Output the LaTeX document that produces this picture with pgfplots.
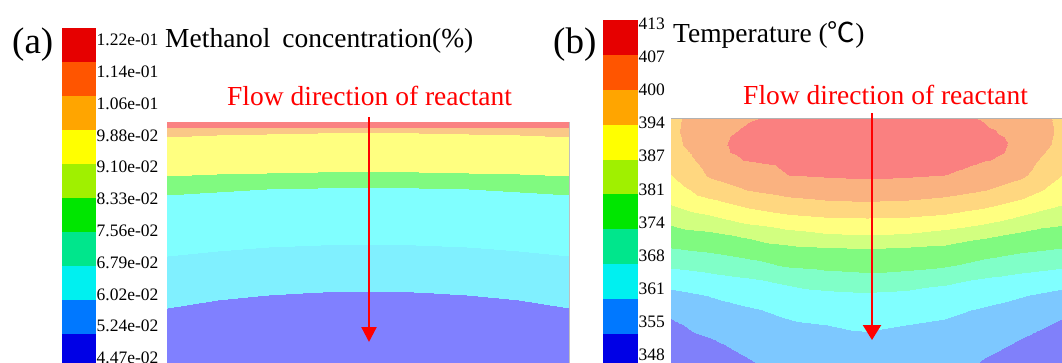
\documentclass[border=0pt]{standalone}
\usepackage{fontspec}
\setmainfont{Liberation Serif}
\newfontfamily\cjk{Noto Sans CJK SC}
\usepackage{pgfplots}
\pgfplotsset{compat=1.18}
\usepackage{pgfplotstable}
\usetikzlibrary{arrows.meta}

\pgfplotsset{
 colormap={cbfull}{rgb255=(0,0,230) rgb255=(0,120,255) rgb255=(0,240,240) rgb255=(0,230,140) rgb255=(0,230,0) rgb255=(160,240,0) rgb255=(255,255,0) rgb255=(255,165,0) rgb255=(255,85,0) rgb255=(230,0,0)},
 colormap={pastelA}{rgb255=(128,128,255) rgb255=(128,128,255) rgb255=(128,240,255) rgb255=(128,255,255) rgb255=(128,255,255) rgb255=(128,250,128) rgb255=(255,255,128) rgb255=(255,255,128) rgb255=(250,200,135) rgb255=(250,130,130)},
 colormap={pastelB}{rgb255=(128,128,250) rgb255=(125,200,255) rgb255=(128,255,255) rgb255=(128,255,200) rgb255=(128,250,128) rgb255=(210,255,128) rgb255=(255,255,128) rgb255=(255,215,128) rgb255=(250,178,128) rgb255=(250,128,128)},
}

% methanol concentration: contour bands, rows follow the band edges
\pgfplotstableread[row sep=\\]{
x y z\\
167 122 0.1220\\ 217.25 122 0.1220\\ 267.5 122 0.1220\\ 317.75 122 0.1220\\ 368 122 0.1220\\ 418.25 122 0.1220\\ 468.5 122 0.1220\\ 518.75 122 0.1220\\ 569 122 0.1220\\
167 128.5 0.11427\\ 217.25 128.5 0.11427\\ 267.5 128.5 0.11427\\ 317.75 128.5 0.11427\\ 368 128.5 0.11427\\ 418.25 128.5 0.11427\\ 468.5 128.5 0.11427\\ 518.75 128.5 0.11427\\ 569 128.5 0.11427\\
167 137 0.10653\\ 217.25 135.25 0.10653\\ 267.5 134 0.10653\\ 317.75 133.25 0.10653\\ 368 133 0.10653\\ 418.25 133.25 0.10653\\ 468.5 134 0.10653\\ 518.75 135.25 0.10653\\ 569 137 0.10653\\
167 175.5 0.09108\\ 217.25 173.97 0.09108\\ 267.5 172.88 0.09108\\ 317.75 172.22 0.09108\\ 368 172 0.09108\\ 418.25 172.22 0.09108\\ 468.5 172.88 0.09108\\ 518.75 173.97 0.09108\\ 569 175.5 0.09108\\
167 195 0.08335\\ 217.25 191.5 0.08335\\ 267.5 189 0.08335\\ 317.75 187.5 0.08335\\ 368 187 0.08335\\ 418.25 187.5 0.08335\\ 468.5 189 0.08335\\ 518.75 191.5 0.08335\\ 569 195 0.08335\\
167 256 0.0679\\ 217.25 250.75 0.0679\\ 267.5 247 0.0679\\ 317.75 244.75 0.0679\\ 368 244 0.0679\\ 418.25 244.75 0.0679\\ 468.5 247 0.0679\\ 518.75 250.75 0.0679\\ 569 256 0.0679\\
167 307.5 0.06017\\ 217.25 300.28 0.06017\\ 267.5 295.13 0.06017\\ 317.75 292.03 0.06017\\ 368 291 0.06017\\ 418.25 292.03 0.06017\\ 468.5 295.13 0.06017\\ 518.75 300.28 0.06017\\ 569 307.5 0.06017\\
167 363 0.0524\\ 217.25 363 0.0524\\ 267.5 363 0.0524\\ 317.75 363 0.0524\\ 368 363 0.0524\\ 418.25 363 0.0524\\ 468.5 363 0.0524\\ 518.75 363 0.0524\\ 569 363 0.0524\\
}\tblA

% temperature field
\pgfplotstableread[row sep=\\]{
x y z\\
671 118 398.5\\ 710 118 404.0\\ 729.5 118 405.2\\ 749 118 406.3\\ 788 118 407.0\\ 827 118 408.5\\ 866.5 118 409.5\\ 906 118 408.5\\ 945 118 407.0\\ 984 118 406.3\\ 1003.5 118 405.2\\ 1023 118 404.0\\ 1062 118 398.5\\
671 130 398.8\\ 710 130 404.5\\ 729.5 130 406.2\\ 749 130 406.9\\ 788 130 407.9\\ 827 130 409.4\\ 866.5 130 410.4\\ 906 130 409.4\\ 945 130 407.9\\ 984 130 406.9\\ 1003.5 130 406.2\\ 1023 130 404.5\\ 1062 130 398.8\\
671 145 398.2\\ 710 145 404.4\\ 729.5 145 406.9\\ 749 145 407.3\\ 788 145 409.0\\ 827 145 410.5\\ 866.5 145 411.5\\ 906 145 410.5\\ 945 145 409.0\\ 984 145 407.3\\ 1003.5 145 406.9\\ 1023 145 404.4\\ 1062 145 398.2\\
671 160 395.9\\ 710 160 402.6\\ 729.5 160 406.1\\ 749 160 406.7\\ 788 160 407.8\\ 827 160 408.8\\ 866.5 160 409.5\\ 906 160 408.8\\ 945 160 407.8\\ 984 160 406.7\\ 1003.5 160 406.1\\ 1023 160 402.6\\ 1062 160 395.9\\
671 175 393.5\\ 710 175 400.8\\ 729.5 175 402.4\\ 749 175 403.9\\ 788 175 406.5\\ 827 175 407.1\\ 866.5 175 407.4\\ 906 175 407.1\\ 945 175 406.5\\ 984 175 403.9\\ 1003.5 175 402.4\\ 1023 175 400.8\\ 1062 175 393.5\\
671 190 390.3\\ 710 190 396.8\\ 729.5 190 398.5\\ 749 190 400.2\\ 788 190 402.3\\ 827 190 403.4\\ 866.5 190 403.9\\ 906 190 403.4\\ 945 190 402.3\\ 984 190 400.2\\ 1003.5 190 398.5\\ 1023 190 396.8\\ 1062 190 390.3\\
671 205 387.0\\ 710 205 391.0\\ 729.5 205 392.9\\ 749 205 394.7\\ 788 205 397.2\\ 827 205 398.4\\ 866.5 205 398.8\\ 906 205 398.4\\ 945 205 397.2\\ 984 205 394.7\\ 1003.5 205 392.9\\ 1023 205 391.0\\ 1062 205 387.0\\
671 220 382.1\\ 710 220 385.1\\ 729.5 220 387.0\\ 749 220 388.9\\ 788 220 391.2\\ 827 220 392.4\\ 866.5 220 392.7\\ 906 220 392.4\\ 945 220 391.2\\ 984 220 388.9\\ 1003.5 220 387.0\\ 1023 220 385.1\\ 1062 220 382.1\\
671 235 377.7\\ 710 235 379.1\\ 729.5 235 380.4\\ 749 235 381.6\\ 788 235 384.6\\ 827 235 386.4\\ 866.5 235 387.0\\ 906 235 386.4\\ 945 235 384.6\\ 984 235 381.6\\ 1003.5 235 380.4\\ 1023 235 379.1\\ 1062 235 377.7\\
671 250 373.4\\ 710 250 374.8\\ 729.5 250 375.8\\ 749 250 376.8\\ 788 250 378.5\\ 827 250 379.3\\ 866.5 250 379.8\\ 906 250 379.3\\ 945 250 378.5\\ 984 250 376.8\\ 1003.5 250 375.8\\ 1023 250 374.8\\ 1062 250 373.4\\
671 265 368.5\\ 710 265 369.9\\ 729.5 265 371.0\\ 749 265 372.1\\ 788 265 374.8\\ 827 265 375.9\\ 866.5 265 376.3\\ 906 265 375.9\\ 945 265 374.8\\ 984 265 372.1\\ 1003.5 265 371.0\\ 1023 265 369.9\\ 1062 265 368.5\\
671 280 363.6\\ 710 280 365.3\\ 729.5 280 366.1\\ 749 280 366.8\\ 788 280 368.8\\ 827 280 370.8\\ 866.5 280 371.8\\ 906 280 370.8\\ 945 280 368.8\\ 984 280 366.8\\ 1003.5 280 366.1\\ 1023 280 365.3\\ 1062 280 363.6\\
671 295 359.4\\ 710 295 361.3\\ 729.5 295 362.3\\ 749 295 363.3\\ 788 295 365.1\\ 827 295 366.1\\ 866.5 295 366.7\\ 906 295 366.1\\ 945 295 365.1\\ 984 295 363.3\\ 1003.5 295 362.3\\ 1023 295 361.3\\ 1062 295 359.4\\
671 310 355.8\\ 710 310 358.8\\ 729.5 310 359.6\\ 749 310 360.4\\ 788 310 362.2\\ 827 310 363.6\\ 866.5 310 364.3\\ 906 310 363.6\\ 945 310 362.2\\ 984 310 360.4\\ 1003.5 310 359.6\\ 1023 310 358.8\\ 1062 310 355.8\\
671 325 353.6\\ 710 325 356.4\\ 729.5 325 357.5\\ 749 325 358.5\\ 788 325 360.2\\ 827 325 361.0\\ 866.5 325 361.8\\ 906 325 361.0\\ 945 325 360.2\\ 984 325 358.5\\ 1003.5 325 357.5\\ 1023 325 356.4\\ 1062 325 353.6\\
671 340 352.2\\ 710 340 354.2\\ 729.5 340 355.4\\ 749 340 356.6\\ 788 340 359.0\\ 827 340 359.6\\ 866.5 340 359.9\\ 906 340 359.6\\ 945 340 359.0\\ 984 340 356.6\\ 1003.5 340 355.4\\ 1023 340 354.2\\ 1062 340 352.2\\
671 363 350.0\\ 710 363 351.5\\ 729.5 363 352.8\\ 749 363 354.0\\ 788 363 357.0\\ 827 363 357.5\\ 866.5 363 357.5\\ 906 363 357.5\\ 945 363 357.0\\ 984 363 354.0\\ 1003.5 363 352.8\\ 1023 363 351.5\\ 1062 363 350.0\\
}\tblB

% colour bars: value runs linearly from top to bottom of the bar
\pgfplotstableread[row sep=\\]{
x y z\\
0 28 0.1220\\ 1 28 0.1220\\
0 367 0.0447\\ 1 367 0.0447\\
}\cbA
\pgfplotstableread[row sep=\\]{
x y z\\
0 20 413\\ 1 20 413\\
0 368 348\\ 1 368 348\\
}\cbB

\pgfplotsset{
 cbar/.style={scale only axis, enlargelimits=false, y dir=reverse, xmin=0, xmax=1,
   axis line style={draw=none}, xtick=\empty, major tick length=0pt, tick style={draw=none},
   yticklabel pos=right,
   yticklabel style={anchor=west, inner sep=0pt, xshift=1.5pt, font=\fontsize{17.5}{18}\selectfont},
   colormap name=cbfull, colormap access=piecewise constant},
 field/.style={scale only axis, enlargelimits=false, y dir=reverse, view={0}{90}, hide axis, clip=false,
   colormap access=piecewise constant},
}

\begin{document}
\begin{tikzpicture}
\path[use as bounding box] (0,0) rectangle (1062pt,-363pt);

% ---------- (a) colour bar
\begin{axis}[cbar, width=33pt, height=335pt, at={(62pt,-28pt)}, anchor=north west,
  ymin=28, ymax=363, point meta min=0.0447, point meta max=0.122,
  ytick={40,71.8,103.6,135.4,167.2,199,230.8,262.6,294.4,326.2,358},
  yticklabels={1.22e-01,1.14e-01,1.06e-01,9.88e-02,9.10e-02,8.33e-02,7.56e-02,6.79e-02,6.02e-02,5.24e-02,4.47e-02}]
\addplot[surf, shader=interp, mesh/cols=2, point meta=\thisrow{z}] table[x=x,y=y] {\cbA};
\end{axis}

% ---------- (a) field
\begin{axis}[field, width=402pt, height=241pt, at={(167pt,-122pt)}, anchor=north west,
  xmin=167, xmax=569, ymin=122, ymax=363, colormap name=pastelA,
  point meta min=0.0447, point meta max=0.122]
\addplot3[surf, shader=interp, mesh/cols=9, point meta=z] table {\tblA};
\draw[black!25, line width=0.8pt] (axis cs:569,122,0.1) -- (axis cs:569,363,0.1);
\addplot3[red, line width=2.3pt, no marks, -{Triangle[width=15pt,length=15pt]}] coordinates {(369,117,0.1) (369,342,0.1)};
\end{axis}

% ---------- (b) colour bar
\begin{axis}[cbar, width=34pt, height=343pt, at={(603pt,-20pt)}, anchor=north west,
  ymin=20, ymax=363, point meta min=348, point meta max=413,
  ytick={24,57,90,123,156,190,223,256,289,322,355},
  yticklabels={413,407,400,394,387,381,374,368,361,355,348}]
\addplot[surf, shader=interp, mesh/cols=2, point meta=\thisrow{z}] table[x=x,y=y] {\cbB};
\end{axis}

% ---------- (b) field
\begin{axis}[field, width=391pt, height=245pt, at={(671pt,-118pt)}, anchor=north west,
  xmin=671, xmax=1062, ymin=118, ymax=363, colormap name=pastelB,
  point meta min=348, point meta max=413]
\addplot3[surf, shader=interp, mesh/cols=13, point meta=z] table {\tblB};
\draw[black!30, line width=0.8pt] (axis cs:671,118.4,400) -- (axis cs:1062,118.4,400);
\addplot3[red, line width=2.3pt, no marks, -{Triangle[width=18pt,length=15pt]}] coordinates {(872,113,400) (872,340,400)};
\end{axis}

% ---------- texts
\node[anchor=base west, inner sep=0pt, font=\fontsize{37}{37}\selectfont] at (12pt,-54pt) {(a)};
\node[anchor=base west, inner sep=0pt, font=\fontsize{27.5}{28}\selectfont] at (165pt,-48pt) {Methanol\hspace{5pt} concentration(\%)};
\node[anchor=base west, inner sep=0pt, text=red, font=\fontsize{27.5}{28}\selectfont] at (227pt,-106pt) {Flow direction of reactant};
\node[anchor=base west, inner sep=0pt, font=\fontsize{37}{37}\selectfont] at (553pt,-54pt) {(b)};
\node[anchor=base west, inner sep=0pt, font=\fontsize{27.5}{28}\selectfont] at (673pt,-43pt) {Temperature ({\cjk ℃})};
\node[anchor=base west, inner sep=0pt, text=red, font=\fontsize{27.5}{28}\selectfont] at (743pt,-105pt) {Flow direction of reactant};
\end{tikzpicture}
\end{document}
